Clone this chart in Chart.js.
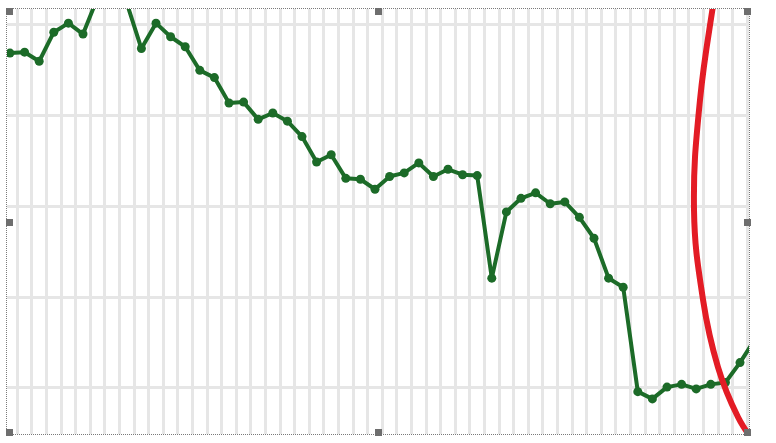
<!DOCTYPE html>
<html>
<head>
<meta charset="utf-8">
<script src="https://cdn.jsdelivr.net/npm/chart.js@4"></script>
<style>
  html, body { margin: 0; padding: 0; background: #fff; }
  body { position: relative; width: 776px; height: 443px; overflow: hidden; }
  #frame {
    position: absolute; left: 6px; top: 8px; width: 742px; height: 425px;
    border: 1px dotted #7a7a7a; overflow: hidden;
  }
  #frame canvas { position: absolute; left: -7px; top: -9px; }
  .handle { position: absolute; width: 7px; height: 7px; background: #6e6e6e; }
</style>
</head>
<body>
<div id="frame"><canvas id="chart" width="776" height="443"></canvas></div>
<div class="handle" style="left:6px;top:8px"></div>
<div class="handle" style="left:375px;top:8px"></div>
<div class="handle" style="left:744px;top:8px"></div>
<div class="handle" style="left:6px;top:219px"></div>
<div class="handle" style="left:744px;top:219px"></div>
<div class="handle" style="left:6px;top:429px"></div>
<div class="handle" style="left:375px;top:429px"></div>
<div class="handle" style="left:744px;top:429px"></div>
<script>
// green series, one value per period
const values = [
  46.9, 47.0, 46.0, 49.2, 50.2, 49.0, 53.0, 56.0, 52.4, 47.4,
  50.2, 48.7, 47.6, 45.0, 44.2, 41.4, 41.5, 39.6, 40.3, 39.4,
  37.7, 34.9, 35.7, 33.1, 33.0, 31.9, 33.3, 33.7, 34.8, 33.3,
  34.1, 33.5, 33.4, 22.1, 29.4, 30.9, 31.5, 30.3, 30.5, 28.8,
  26.5, 22.1, 21.1, 9.6, 8.8, 10.1, 10.4, 9.9, 10.4, 10.6,
  12.8, 15.3
];
const periods = values.map((v, i) => String(i + 1));

// red hand-drawn arc, x in period index units
const arcX = [48.36, 47.26, 46.85, 47.47, 48.49, 49.86, 51.23];
const arcY = [54.41, 41.74, 29.61, 19.70, 12.31, 6.80, 3.39];

const yTicks = [10, 20, 30, 40, 50];

const ctx = document.getElementById("chart").getContext("2d");
const green = "#1c6b28";
const gridColor = "#e6e6e6";

new Chart(ctx, {
  type: "line",
  data: {
    labels: periods,
    datasets: [
      {
        data: values,
        borderColor: green,
        backgroundColor: green,
        borderWidth: 4,
        borderJoinStyle: "round",
        borderCapStyle: "round",
        pointRadius: 4.5,
        pointBorderWidth: 0,
        tension: 0,
        xAxisID: "x",
        order: 2,
      },
      {
        type: "scatter",
        data: arcX.map((x, i) => ({ x, y: arcY[i] })),
        showLine: true,
        borderColor: "#e31c25",
        borderWidth: 6,
        pointRadius: 0,
        tension: 0.4,
        xAxisID: "xr",
        order: 1,
      },
    ],
  },
  options: {
    responsive: false,
    animation: false,
    layout: { autoPadding: false, padding: { left: 2.7, right: 14.1, top: 0, bottom: 0 } },
    plugins: { legend: { display: false }, tooltip: { enabled: false } },
    scales: {
      x: {
        type: "category",
        offset: true,
        ticks: { display: false },
        border: { display: false },
        grid: { offset: true, color: gridColor, lineWidth: 3, drawTicks: false },
      },
      xr: {
        type: "linear",
        display: false,
        min: -0.5,
        max: values.length - 0.5,
      },
      y: {
        min: 3.94,
        max: 52.75,
        ticks: { display: false, stepSize: 10, includeBounds: false },
        afterBuildTicks: (axis) => { axis.ticks = yTicks.map((v) => ({ value: v })); },
        border: { display: false },
        grid: { color: gridColor, lineWidth: 3, drawTicks: false },
      },
    },
  },
});
</script>
</body>
</html>
